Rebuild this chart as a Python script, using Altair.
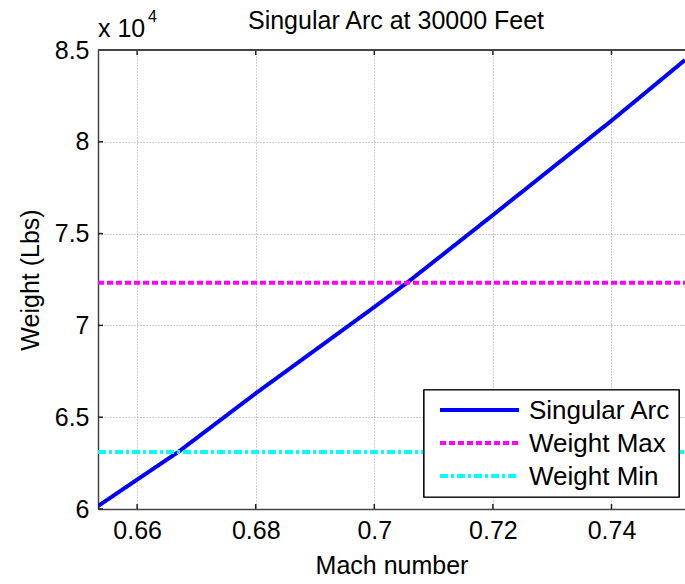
import altair as alt
import pandas as pd

# ---- data ----
mach = [0.6534, 0.66, 0.6669, 0.68, 0.70, 0.7055, 0.72, 0.74, 0.7524]
weight = [60160, 61600, 63100, 66300, 71000, 72320, 76010, 81150, 84455]
weight_max = 72320
weight_min = 63100
x_ticks = [0.66, 0.68, 0.70, 0.72, 0.74]
y_ticks = [60000, 65000, 70000, 75000, 80000, 85000]
x_domain = [0.6534, 0.7524]
y_domain = [60000, 85000]
series_names = ["Singular Arc", "Weight Max", "Weight Min"]
series_colors = ["#0000FF", "#FF00FF", "#00FFFF"]
series_dash = [[1, 0], [6, 3], [8, 3, 3, 3]]
chart_title = "Singular Arc at 30000 Feet"

W, H = 587, 459
FONT = "Liberation Sans"
FS = 25

rows = []
for m, w in zip(mach, weight):
    rows.append({"series": "Singular Arc", "mach": m, "weight": w})
for xv in x_domain:
    rows.append({"series": "Weight Max", "mach": xv, "weight": weight_max})
for xv in x_domain:
    rows.append({"series": "Weight Min", "mach": xv, "weight": weight_min})
df = pd.DataFrame(rows)

xscale = alt.Scale(domain=x_domain, nice=False, zero=False)
yscale = alt.Scale(domain=y_domain, nice=False, zero=False)

lines = alt.Chart(df).mark_line(strokeWidth=4, clip=True).encode(
    x=alt.X("mach:Q", scale=xscale,
            axis=alt.Axis(values=x_ticks, format=".2~f", title="Mach number",
                          ticks=False, labelPadding=9,
                          titleY=56, titleBaseline="middle",
                          grid=True, gridDash=[1, 2], gridColor="#9a9a9a",
                          domainColor="#444444", domainWidth=1.5)),
    y=alt.Y("weight:Q", scale=yscale,
            axis=alt.Axis(values=y_ticks,
                          labelExpr="format(datum.value/10000, '~g')",
                          title="Weight (Lbs)", ticks=False, labelPadding=9,
                          titleX=-68, titleY=H / 2, titleBaseline="middle",
                          grid=True, gridDash=[1, 2], gridColor="#9a9a9a",
                          domainColor="#444444", domainWidth=1.5)),
    color=alt.Color("series:N",
                    scale=alt.Scale(domain=series_names, range=series_colors),
                    legend=None),
    strokeDash=alt.StrokeDash("series:N",
                              scale=alt.Scale(domain=series_names, range=series_dash),
                              legend=None),
)

tick_x = pd.DataFrame({"t": x_ticks})
tick_y = pd.DataFrame({"t": y_ticks})
xb = alt.Chart(tick_x).mark_rule(color="#222222", strokeWidth=1.5).encode(
    x=alt.X("t:Q", scale=xscale), y=alt.value(H), y2=alt.value(H - 5))
xt = alt.Chart(tick_x).mark_rule(color="#222222", strokeWidth=1.5).encode(
    x=alt.X("t:Q", scale=xscale), y=alt.value(0), y2=alt.value(5))
yl = alt.Chart(tick_y).mark_rule(color="#222222", strokeWidth=1.5).encode(
    y=alt.Y("t:Q", scale=yscale), x=alt.value(0), x2=alt.value(5))
top = alt.Chart(tick_x).mark_rule(color="#444444", strokeWidth=1.5).encode(
    x=alt.value(0), x2=alt.value(W), y=alt.value(0))

# ---- manual legend (MATLAB style) ----
LX0, LX1, LY0, LY1 = 326, 581, 340, 447
leg_df = pd.DataFrame({"series": series_names})
box = alt.Chart(leg_df).mark_rect(fill="white", stroke="black", strokeWidth=1.2).encode(
    x=alt.value(LX0), x2=alt.value(LX1), y=alt.value(LY0), y2=alt.value(LY1))
legend_layers = [box]
for i, (name, col, dash) in enumerate(zip(series_names, series_colors, series_dash)):
    ry = 360 + 33 * i
    sub = pd.DataFrame({"series": [name]})
    legend_layers.append(
        alt.Chart(sub).mark_rule(color=col, strokeWidth=4, strokeDash=dash).encode(
            x=alt.value(342), x2=alt.value(421), y=alt.value(ry)))
    legend_layers.append(
        alt.Chart(sub).mark_text(align="left", baseline="middle", fontSize=26,
                                 font=FONT, color="black").encode(
            x=alt.value(431), y=alt.value(ry + 1), text="series:N"))

exp_df = pd.DataFrame({"label": ["x 10"], "sup": ["4"], "title": [chart_title]})
exp_main = alt.Chart(exp_df).mark_text(align="left", baseline="alphabetic",
                                       fontSize=25, font=FONT, color="black").encode(
    x=alt.value(0), y=alt.value(-13), text="label:N")
exp_sup = alt.Chart(exp_df).mark_text(align="left", baseline="alphabetic",
                                      fontSize=16, font=FONT, color="black").encode(
    x=alt.value(50), y=alt.value(-28), text="sup:N")
title_txt = alt.Chart(exp_df).mark_text(align="center", baseline="alphabetic",
                                        fontSize=25, font=FONT, color="black").encode(
    x=alt.value(298), y=alt.value(-21), text="title:N")

chart = alt.layer(lines, xb, xt, yl, top, *legend_layers, exp_main, exp_sup, title_txt).properties(
    width=W, height=H,
    autosize=alt.AutoSizeParams(type="none"),
    padding={"left": 98, "top": 50, "right": 0, "bottom": 75},
).configure(background="white").configure_view(stroke=None).configure_axis(
    labelFont=FONT, labelFontSize=FS, labelColor="black",
    titleFont=FONT, titleFontSize=FS, titleFontWeight="normal", titleColor="black",
)

chart.save("out.html", embed_options={"renderer": "svg", "actions": False})
